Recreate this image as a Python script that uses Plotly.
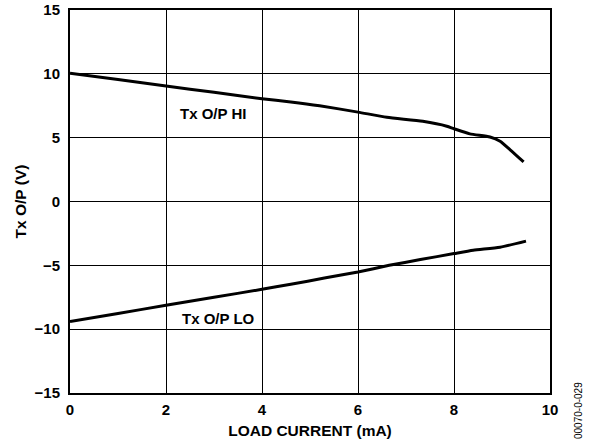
import plotly.graph_objects as go

hi_x = [0, 1, 2, 3, 4, 4.6, 5.2, 6.0, 6.6, 7.35, 7.85, 8.0, 8.33, 8.75, 8.96, 9.17, 9.45]
hi_y = [10.05, 9.55, 9.05, 8.55, 8.05, 7.8, 7.5, 7.0, 6.6, 6.28, 5.9, 5.7, 5.3, 5.05, 4.72, 4.05, 3.1]

lo_x = [0, 1, 2, 3, 4, 4.6, 5.3, 6.0, 6.65, 7.3, 8.0, 8.4, 8.96, 9.5]
lo_y = [-9.4, -8.77, -8.13, -7.5, -6.88, -6.48, -6.0, -5.52, -5.0, -4.55, -4.08, -3.82, -3.58, -3.1]

x_ticks = [0, 2, 4, 6, 8, 10]
y_ticks = [-15, -10, -5, 0, 5, 10, 15]

FONT = "Liberation Sans, Arial, Helvetica, sans-serif"

fig = go.Figure()
fig.add_trace(go.Scatter(x=hi_x, y=hi_y, mode="lines",
                         line=dict(color="black", width=3, shape="spline", smoothing=0.6),
                         showlegend=False))
fig.add_trace(go.Scatter(x=lo_x, y=lo_y, mode="lines",
                         line=dict(color="black", width=3, shape="spline", smoothing=0.6),
                         showlegend=False))

fig.add_annotation(x=2.98, y=6.93, text="Tx O/P HI", showarrow=False,
                   font=dict(family=FONT, size=15, color="black", weight="bold"))
fig.add_annotation(x=3.09, y=-9.15, text="Tx O/P LO", showarrow=False,
                   font=dict(family=FONT, size=15, color="black", weight="bold"))
fig.add_annotation(x=(578 - 70) / 480, y=(393 - 411) / 383, xref="paper", yref="paper",
                   text="00070-0-029", showarrow=False, textangle=-90,
                   xanchor="center", yanchor="middle",
                   font=dict(family=FONT, size=10, color="black"))

fig.update_layout(
    width=589, height=445,
    margin=dict(l=70, r=39, t=10, b=52, autoexpand=False),
    plot_bgcolor="white", paper_bgcolor="white",
    font=dict(family=FONT, color="black"),
    xaxis=dict(range=[0, 10], tickvals=x_ticks, showgrid=True, gridcolor="black", gridwidth=1.3,
               zeroline=False, showline=True, linecolor="black", linewidth=2, mirror=True,
               automargin=False,
               ticks="", ticklabelstandoff=2, tickfont=dict(family=FONT, size=15, weight="bold"),
               title=dict(text="LOAD CURRENT (mA)", standoff=8,
                          font=dict(family=FONT, size=15.5, weight="bold"))),
    yaxis=dict(range=[-15, 15], tickvals=y_ticks, showgrid=True, gridcolor="black", gridwidth=1.3,
               zeroline=False, showline=True, linecolor="black", linewidth=2, mirror=True,
               automargin=False,
               ticks="", ticklabelstandoff=5, tickfont=dict(family=FONT, size=15, weight="bold"),
               title=dict(text="Tx O/P (V)", standoff=4,
                          font=dict(family=FONT, size=15.5, weight="bold"))),
)

fig.write_html("out.html")
